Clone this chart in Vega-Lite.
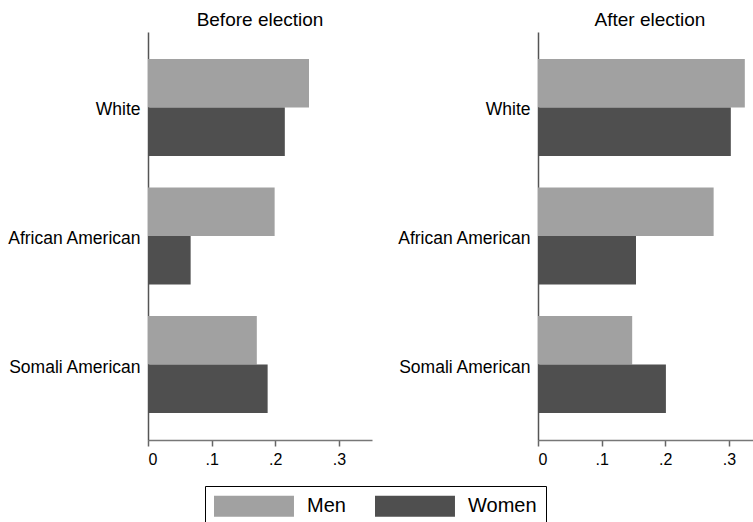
{
  "$schema": "https://vega.github.io/schema/vega-lite/v6.json",
  "padding": {"left": 6, "top": 11, "right": 0, "bottom": 0},
  "background": "white",
  "data": {"values": [
    {"period": "Before election", "group": "White", "gender": "Men", "value": 0.253},
    {"period": "Before election", "group": "White", "gender": "Women", "value": 0.215},
    {"period": "Before election", "group": "African American", "gender": "Men", "value": 0.199},
    {"period": "Before election", "group": "African American", "gender": "Women", "value": 0.067},
    {"period": "Before election", "group": "Somali American", "gender": "Men", "value": 0.171},
    {"period": "Before election", "group": "Somali American", "gender": "Women", "value": 0.188},
    {"period": "After election", "group": "White", "gender": "Men", "value": 0.325},
    {"period": "After election", "group": "White", "gender": "Women", "value": 0.303},
    {"period": "After election", "group": "African American", "gender": "Men", "value": 0.276},
    {"period": "After election", "group": "African American", "gender": "Women", "value": 0.154},
    {"period": "After election", "group": "Somali American", "gender": "Men", "value": 0.148},
    {"period": "After election", "group": "Somali American", "gender": "Women", "value": 0.201}
  ]},
  "facet": {
    "column": {
      "field": "period",
      "type": "nominal",
      "sort": ["Before election", "After election"],
      "header": {"title": null, "labelFontSize": 19, "labelFont": "Liberation Sans", "labelColor": "#000", "labelPadding": 2}
    }
  },
  "spacing": 24,
  "resolve": {"axis": {"y": "independent", "x": "independent"}},
  "spec": {
    "width": 224,
    "height": 408,
    "mark": {"type": "bar"},
    "encoding": {
      "y": {
        "field": "group", "type": "nominal",
        "sort": ["White", "African American", "Somali American"],
        "scale": {"paddingInner": 0.245, "paddingOuter": 0.21},
        "axis": {"title": null, "ticks": false, "tickSize": 0, "labelPadding": 8, "labelOffset": 3, "labelFontSize": 17.5, "labelFont": "Liberation Sans", "labelColor": "#000", "domainColor": "#555", "domainWidth": 1.5}
      },
      "yOffset": {
        "field": "gender", "type": "nominal",
        "sort": ["Men", "Women"],
        "scale": {"paddingInner": 0, "paddingOuter": 0}
      },
      "x": {
        "field": "value", "type": "quantitative",
        "scale": {"domain": [0, 0.352], "nice": false},
        "axis": {"title": null, "values": [0, 0.1, 0.2, 0.3], "grid": false, "labelExpr": "datum.value == 0 ? '0' : replace(format(datum.value, '.1f'), '0.', '.')", "labelFontSize": 16, "labelFont": "Liberation Sans", "labelColor": "#000", "labelPadding": 5, "tickSize": 6, "tickColor": "#666", "tickWidth": 1.5, "domainColor": "#777", "domainWidth": 1.5}
      },
      "color": {
        "field": "gender", "type": "nominal",
        "sort": ["Men", "Women"],
        "scale": {"domain": ["Men", "Women"], "range": ["#a1a1a1", "#4f4f4f"]},
        "legend": {
          "title": null,
          "orient": "none",
          "legendX": 57,
          "legendY": 454,
          "direction": "horizontal",
          "strokeColor": "#000",
          "padding": 9,
          "symbolType": "M-1,-0.955H6.27V0.955H-1Z",
          "symbolSize": 484,
          "symbolStrokeWidth": 0,
          "symbolOpacity": 1,
          "labelFontSize": 20,
          "labelFont": "Liberation Sans",
          "labelColor": "#000",
          "labelOffset": 71,
          "columnPadding": 29
        }
      }
    }
  },
  "config": {
    "view": {"stroke": null},
    "font": "Liberation Sans"
  }
}
